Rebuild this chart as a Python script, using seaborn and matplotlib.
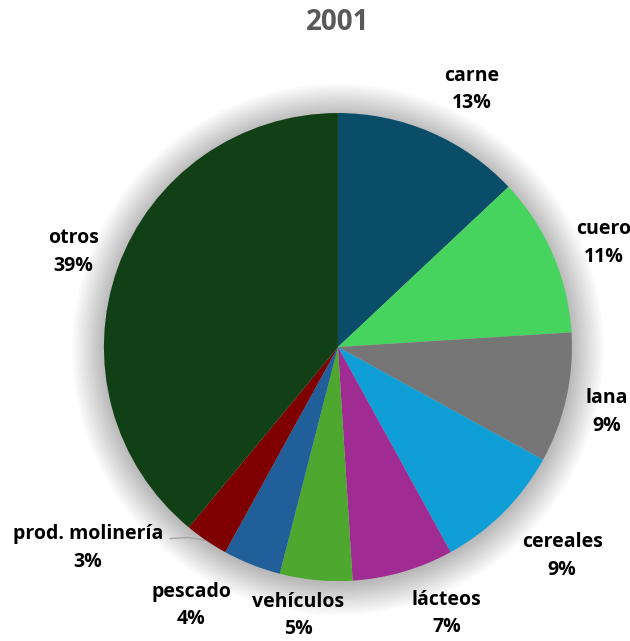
import numpy as np
import matplotlib
matplotlib.use('Agg')
import matplotlib.pyplot as plt
import seaborn as sns
from matplotlib.patches import Circle

# Data
categories = ['carne', 'cuero', 'lana', 'cereales', 'lácteos', 'vehículos',
              'pescado', 'prod. molinería', 'otros']
shares = [13, 11, 9, 9, 7, 5, 4, 3, 39]
colors = ['#0A4D68', '#47D45E', '#767676', '#0F9ED5', '#A02B93', '#4EA72E',
          '#215F9A', '#7F0000', '#124016']
title = '2001'

sns.set_theme(style='white')
plt.rcParams['font.family'] = ['Open Sans', 'DejaVu Sans']

fig = plt.figure(figsize=(6.3, 6.41), dpi=100)
ax = fig.add_axes([0, 0, 1, 1])

# soft shadow behind the pie
for i in range(18):
    ax.add_patch(Circle((0, -0.01), 1.0 + 0.008 * i, color='black', alpha=0.014, lw=0, zorder=0))

wedges, _ = ax.pie(shares, colors=colors, startangle=90, counterclock=False,
                   radius=1.0, wedgeprops=dict(linewidth=0))
for w in wedges:
    w.set_zorder(2)

ax.set_aspect('auto')
ax.set_xlim(-1.444, 1.248)
ax.set_ylim(-1.256, 1.483)
ax.axis('off')

# label distance tweaks (radius multiplier, angle shift in degrees)
adjust = {'carne': (1.24, -4), 'cuero': (1.22, -2), 'lana': (1.18, -1),
          'cereales': (1.31, 2), 'lácteos': (1.23, 6), 'vehículos': (1.16, -3),
          'pescado': (1.27, -8), 'prod. molinería': (1.37, -17), 'otros': (1.2, 0)}

for w, cat, val in zip(wedges, categories, shares):
    mid = np.deg2rad((w.theta1 + w.theta2) / 2)
    r, da = adjust[cat]
    ang = mid + np.deg2rad(da)
    x, y = r * np.cos(ang), r * np.sin(ang)
    ax.text(x, y, f'{cat}\n{val}%', ha='center', va='center', fontsize=14,
            fontweight='bold', color='black', linespacing=1.5, zorder=3)
    if cat == 'prod. molinería':
        ax.plot([x + 0.35, x + 0.43, np.cos(mid)],
                [y + 0.04, y + 0.045, np.sin(mid)],
                color='#A6A6A6', lw=1, zorder=1)

fig.text(338 / 630, 1 - 22 / 641, title, ha='center', va='center', fontsize=20,
         fontweight='bold', color='#595959')

fig.savefig('out.png', dpi=100)
